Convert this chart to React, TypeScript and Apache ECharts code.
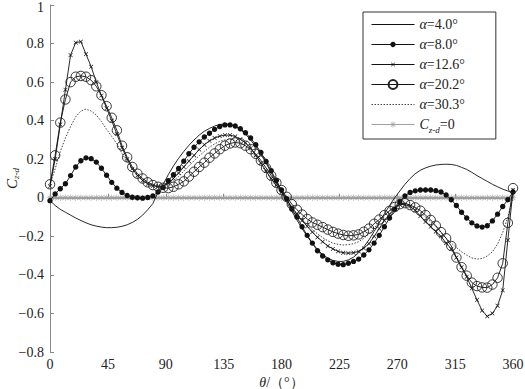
import React, { useEffect, useRef } from "react";
import * as echarts from "echarts";

const angles = [
  0, 4, 8, 12, 16, 20, 24, 28, 32, 36, 40, 44, 48, 52, 56, 60, 64, 68, 72, 76,
  80, 84, 88, 92, 96, 100, 104, 108, 112, 116, 120, 124, 128, 132, 136, 140, 144, 148, 152, 156,
  160, 164, 168, 172, 176, 180, 184, 188, 192, 196, 200, 204, 208, 212, 216, 220, 224, 228, 232, 236,
  240, 244, 248, 252, 256, 260, 264, 268, 272, 276, 280, 284, 288, 292, 296, 300, 304, 308, 312, 316,
  320, 324, 328, 332, 336, 340, 344, 348, 352, 356, 360,
];

const alpha4 = [
  -0.015, -0.04, -0.06, -0.075, -0.09, -0.105, -0.118, -0.13, -0.14, -0.147,
  -0.152, -0.155, -0.155, -0.153, -0.148, -0.14, -0.128, -0.112, -0.09, -0.062,
  -0.03, 0.03, 0.07, 0.12, 0.165, 0.205, 0.24, 0.272, 0.3, 0.325,
  0.345, 0.36, 0.372, 0.38, 0.383, 0.38, 0.37, 0.353, 0.33, 0.3,
  0.265, 0.225, 0.18, 0.13, 0.08, 0.03, -0.02, -0.07, -0.115, -0.16,
  -0.2, -0.237, -0.268, -0.295, -0.313, -0.325, -0.33, -0.33, -0.322, -0.308,
  -0.285, -0.255, -0.218, -0.175, -0.13, -0.083, -0.04, 0.0, 0.035, 0.07,
  0.1, 0.125, 0.143, 0.155, 0.164, 0.17, 0.173, 0.174, 0.173, 0.168,
  0.158, 0.147, 0.132, 0.115, 0.1, 0.085, 0.07, 0.057, 0.045, 0.035, 0.025,
];

const alpha8 = [
  -0.015, 0.02, 0.047, 0.073, 0.115, 0.16, 0.192, 0.207, 0.203, 0.185,
  0.153, 0.117, 0.08, 0.05, 0.028, 0.012, 0.003, 0.0, -0.002, 0.002,
  0.01, 0.03, 0.053, 0.088, 0.12, 0.152, 0.19, 0.228, 0.262, 0.29,
  0.315, 0.335, 0.355, 0.37, 0.378, 0.378, 0.372, 0.358, 0.337, 0.31,
  0.275, 0.235, 0.188, 0.14, 0.09, 0.04, -0.005, -0.058, -0.1, -0.15,
  -0.195, -0.235, -0.275, -0.302, -0.322, -0.337, -0.345, -0.347, -0.34, -0.33,
  -0.318, -0.297, -0.27, -0.235, -0.195, -0.15, -0.105, -0.06, -0.02, 0.01,
  0.028, 0.036, 0.04, 0.04, 0.04, 0.037, 0.03, 0.015, -0.01, -0.04,
  -0.075, -0.105, -0.13, -0.146, -0.152, -0.145, -0.12, -0.085, -0.045, -0.01, 0.03,
];

const alpha12 = [
  0.06, 0.2, 0.38, 0.56, 0.74, 0.805, 0.81, 0.745, 0.68, 0.6,
  0.53, 0.465, 0.4, 0.33, 0.26, 0.2, 0.15, 0.115, 0.09, 0.072,
  0.062, 0.058, 0.06, 0.075, 0.1, 0.128, 0.16, 0.19, 0.22, 0.25,
  0.275, 0.295, 0.31, 0.32, 0.325, 0.325, 0.318, 0.304, 0.285, 0.258,
  0.22, 0.18, 0.14, 0.1, 0.065, 0.03, -0.008, -0.048, -0.085, -0.118,
  -0.148, -0.178, -0.205, -0.228, -0.25, -0.265, -0.278, -0.285, -0.287, -0.285,
  -0.278, -0.262, -0.238, -0.2, -0.16, -0.118, -0.085, -0.055, -0.035, -0.035,
  -0.045, -0.065, -0.095, -0.125, -0.15, -0.175, -0.2, -0.235, -0.265, -0.31,
  -0.36, -0.41, -0.47, -0.53, -0.585, -0.615, -0.6, -0.56, -0.48, -0.22, 0.04,
];

const alpha20 = [
  0.07, 0.22, 0.39, 0.51, 0.6, 0.628, 0.632, 0.628, 0.61, 0.578,
  0.532, 0.475, 0.415, 0.35, 0.27, 0.21, 0.16, 0.125, 0.1, 0.08,
  0.066, 0.057, 0.052, 0.05, 0.057, 0.07, 0.085, 0.11, 0.135, 0.16,
  0.182, 0.208, 0.23, 0.252, 0.27, 0.282, 0.287, 0.283, 0.27, 0.252,
  0.228, 0.193, 0.155, 0.115, 0.078, 0.04, 0.005, -0.033, -0.062, -0.087,
  -0.11, -0.128, -0.14, -0.152, -0.165, -0.177, -0.186, -0.193, -0.197, -0.195,
  -0.19, -0.176, -0.16, -0.135, -0.113, -0.09, -0.068, -0.048, -0.033, -0.028,
  -0.038, -0.05, -0.067, -0.09, -0.115, -0.145, -0.178, -0.21, -0.25, -0.31,
  -0.36, -0.404, -0.44, -0.458, -0.465, -0.466, -0.45, -0.415, -0.34, -0.13, 0.05,
];

const alpha30 = [
  0.07, 0.15, 0.24, 0.31, 0.37, 0.42, 0.45, 0.46, 0.45, 0.43,
  0.395, 0.355, 0.318, 0.28, 0.23, 0.185, 0.15, 0.12, 0.097, 0.08,
  0.07, 0.065, 0.065, 0.072, 0.088, 0.11, 0.138, 0.165, 0.192, 0.218,
  0.24, 0.262, 0.28, 0.293, 0.3, 0.302, 0.298, 0.287, 0.268, 0.243,
  0.21, 0.172, 0.133, 0.095, 0.058, 0.022, -0.015, -0.05, -0.082, -0.112,
  -0.14, -0.165, -0.187, -0.207, -0.223, -0.235, -0.242, -0.245, -0.243, -0.238,
  -0.228, -0.21, -0.188, -0.158, -0.125, -0.093, -0.065, -0.042, -0.03, -0.03,
  -0.04, -0.055, -0.078, -0.1, -0.125, -0.15, -0.18, -0.21, -0.235, -0.258,
  -0.28, -0.298, -0.312, -0.318, -0.315, -0.302, -0.28, -0.24, -0.18, -0.1, 0.0,
];

const zeroLine = [
  0, 0, 0, 0, 0, 0, 0, 0, 0, 0, 0, 0, 0, 0, 0, 0, 0, 0, 0, 0,
  0, 0, 0, 0, 0, 0, 0, 0, 0, 0, 0, 0, 0, 0, 0, 0, 0, 0, 0, 0,
  0, 0, 0, 0, 0, 0, 0, 0, 0, 0, 0, 0, 0, 0, 0, 0, 0, 0, 0, 0,
  0, 0, 0, 0, 0, 0, 0, 0, 0, 0, 0, 0, 0, 0, 0, 0, 0, 0, 0, 0,
  0, 0, 0, 0, 0, 0, 0, 0, 0, 0, 0,
];

const seriesNames = ["a4", "a8", "a12", "a20", "a30", "zero"];
const legendLabels: Record<string, string> = {
  a4: "{i|α}=4.0°",
  a8: "{i|α}=8.0°",
  a12: "{i|α}=12.6°",
  a20: "{i|α}=20.2°",
  a30: "{i|α}=30.3°",
  zero: "{i|C}{sub|z-d}=0",
};

const xTicks = [0, 45, 90, 135, 180, 225, 270, 315, 360];

const SERIF = "Liberation Serif";
// Symbols are drawn in a 0..10 box; zero-area corner points keep the box so the
// visible glyph can be smaller than the box (consistent legend icon sizes).
const BOX = "M0,0Z M10,10Z ";
const CIRCLE_BIG =
  "path://M5,0C7.76,0 10,2.24 10,5C10,7.76 7.76,10 5,10C2.24,10 0,7.76 0,5C0,2.24 2.24,0 5,0Z";
const DOT_SYMBOL =
  "path://" + BOX + "M5,2C6.66,2 8,3.34 8,5C8,6.66 6.66,8 5,8C3.34,8 2,6.66 2,5C2,3.34 3.34,2 5,2Z";
const X_SYMBOL =
  "path://" + BOX + "M2.6,3.1L3.1,2.6L5,4.5L6.9,2.6L7.4,3.1L5.5,5L7.4,6.9L6.9,7.4L5,5.5L3.1,7.4L2.6,6.9L4.5,5Z";
const STAR_SYMBOL =
  "path://" + BOX +
  "M4.7,1.4h0.6v7.2h-0.6z M1.4,4.7h7.2v0.6h-7.2z M2.3,2.7L2.7,2.3L7.7,7.3L7.3,7.7z M7.3,2.3L7.7,2.7L2.7,7.7L2.3,7.3z";
const NO_SYMBOL = "path://" + BOX;

function pairs(vals: number[]) {
  return angles.map((a, i) => [a, vals[i]]);
}

export default function App() {
  const ref = useRef<HTMLDivElement>(null);
  useEffect(() => {
    if (!ref.current) return;
    const chart = echarts.init(ref.current, null, { renderer: "svg" });
    const black = "#111";
    const option: any = {
      animation: false,
      backgroundColor: "#fff",
      textStyle: { fontFamily: SERIF },
      grid: {
        left: 50,
        right: 12,
        top: 5,
        bottom: 37,
        containLabel: false,
        outerBoundsMode: "none",
      },
      legend: {
        orient: "vertical",
        left: 363,
        top: 12,
        data: seriesNames,
        formatter: (n: string) => legendLabels[n],
        itemWidth: 43,
        itemHeight: 11,
        itemGap: 3,
        padding: [4, 31, 5, 8],
        borderColor: "#333",
        borderWidth: 1,
        backgroundColor: "#fff",
        lineStyle: { width: 1 },
        textStyle: {
          fontFamily: SERIF,
          fontSize: 14,
          lineHeight: 17,
          color: "#222",
          rich: {
            i: { fontFamily: SERIF, fontStyle: "italic", fontSize: 14, lineHeight: 17, color: "#222" },
            sub: {
              fontFamily: SERIF,
              fontStyle: "italic",
              fontSize: 9,
              color: "#222",
              padding: [10, 0, 0, 0],
            },
          },
        },
      },
      xAxis: {
        type: "value",
        min: 0,
        max: 360,
        interval: 45,
        name: "{i|θ}/（°）",
        nameLocation: "middle",
        nameGap: 23,
        nameMoveOverlap: false,
        nameTextStyle: {
          fontFamily: SERIF,
          fontSize: 14,
          lineHeight: 14,
          color: "#222",
          rich: {
            i: { fontFamily: SERIF, fontStyle: "italic", fontSize: 14, lineHeight: 14, color: "#222" },
          },
        },
        axisLine: { show: true, lineStyle: { color: "#888", width: 1 } },
        axisTick: { show: true, inside: true, length: 4, lineStyle: { color: "#888" } },
        splitLine: { show: false },
        axisLabel: {
          fontFamily: SERIF,
          fontSize: 14,
          color: "#222",
          margin: 5,
          formatter: (v: number) => (xTicks.indexOf(v) >= 0 ? String(v) : ""),
        },
      },
      yAxis: {
        type: "value",
        min: -0.8,
        max: 1,
        interval: 0.2,
        name: "{i|C}{sub|z-d}",
        nameLocation: "middle",
        nameRotate: 90,
        nameGap: 30,
        nameMoveOverlap: false,
        nameTextStyle: {
          fontFamily: SERIF,
          fontSize: 15,
          color: "#222",
          rich: {
            i: { fontFamily: SERIF, fontStyle: "italic", fontSize: 15, color: "#222" },
            sub: { fontFamily: SERIF, fontStyle: "italic", fontSize: 9, color: "#222", padding: [8, 0, 0, 0] },
          },
        },
        axisLine: { show: true, lineStyle: { color: "#888", width: 1 } },
        axisTick: { show: true, inside: true, length: 4, lineStyle: { color: "#888" } },
        splitLine: { show: false },
        axisLabel: {
          fontFamily: SERIF,
          fontSize: 14,
          color: "#222",
          margin: 6,
          formatter: (v: number) => {
            const r = Math.round(v * 10) / 10;
            const s = String(Math.abs(r));
            if (r === 1) return "{top|1}";
            return r < 0 ? "\u2212" + s : s;
          },
          rich: {
            top: { fontFamily: SERIF, fontSize: 14, color: "#222", padding: [5, 0, 0, 0] },
          },
        },
      },
      series: [
        {
          name: "zero",
          type: "line",
          data: pairs(zeroLine),
          symbol: STAR_SYMBOL,
          symbolSize: 9,
          showAllSymbol: true,
          lineStyle: { color: "#a0a0a0", width: 2 },
          itemStyle: { color: "#a0a0a0" },
          z: 1,
        },
        {
          name: "a4",
          type: "line",
          data: pairs(alpha4),
          symbol: NO_SYMBOL,
          showSymbol: false,
          lineStyle: { color: black, width: 0.9 },
          itemStyle: { color: black },
          z: 2,
        },
        {
          name: "a8",
          type: "line",
          data: pairs(alpha8),
          symbol: DOT_SYMBOL,
          symbolSize: 9,
          showAllSymbol: true,
          lineStyle: { color: black, width: 0.9 },
          itemStyle: { color: black },
          z: 3,
        },
        {
          name: "a12",
          type: "line",
          data: pairs(alpha12),
          symbol: X_SYMBOL,
          symbolSize: 9,
          showAllSymbol: true,
          lineStyle: { color: black, width: 0.9 },
          itemStyle: { color: black },
          z: 4,
        },
        {
          name: "a20",
          type: "line",
          data: pairs(alpha20),
          symbol: CIRCLE_BIG,
          symbolSize: 9.5,
          showAllSymbol: true,
          lineStyle: { color: black, width: 0.9 },
          itemStyle: { color: "rgba(255,255,255,0)", borderColor: "#222", borderWidth: 0.9 },
          z: 5,
        },
        {
          name: "a30",
          type: "line",
          data: pairs(alpha30),
          symbol: NO_SYMBOL,
          showSymbol: false,
          lineStyle: { color: "#444", width: 1, type: [1.5, 1.5] },
          itemStyle: { color: "#444" },
          z: 2,
        },
      ],
    };
    chart.setOption(option);
    return () => chart.dispose();
  }, []);
  return (
    <div
      ref={ref}
      style={{ position: "absolute", left: 0, top: 0, width: 525, height: 389 }}
    />
  );
}
